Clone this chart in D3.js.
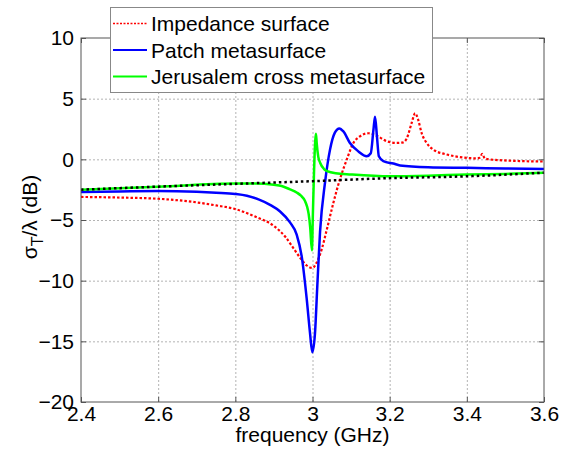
<!DOCTYPE html>
<html>
<head>
<meta charset="utf-8">
<script src="https://cdn.jsdelivr.net/npm/d3@7"></script>
<style>
  body { margin: 0; background: #fff; }
  text { font-family: "Liberation Sans", Arial, sans-serif; }
  .tick text { font-size: 21px; fill: #000; }
  .grid line { stroke: #b4b4b4; stroke-dasharray: 2,2; stroke-width: 1; }
  .grid path { display: none; }
</style>
</head>
<body>
<div id="plot"></div>
<script>
const WIDTH  = 571;
const HEIGHT = 450;
const MARGIN = { left: 81, right: 27, top: 38, bottom: 48 };

const X_TICKS = [2.4, 2.6, 2.8, 3.0, 3.2, 3.4, 3.6];
const Y_TICKS = [-20, -15, -10, -5, 0, 5, 10];

const LEGEND_LABELS = ["Impedance surface", "Patch metasurface", "Jerusalem cross metasurface"];

// frequency (GHz) / sigma_T over lambda (dB)
const IMP_F = [2.4, 2.5, 2.6, 2.7, 2.75, 2.8, 2.85, 2.9, 2.93, 2.95, 2.97, 2.985, 3.0, 3.011, 3.024, 3.037,
               3.054, 3.071, 3.089, 3.106, 3.123, 3.145, 3.166, 3.192, 3.218, 3.235, 3.244, 3.257,
               3.266, 3.274, 3.283, 3.296, 3.313, 3.348, 3.391, 3.426, 3.434, 3.44, 3.447, 3.503, 3.6];
const IMP_V = [-3.1, -3.15, -3.25, -3.55, -3.8, -4.1, -4.7, -5.5, -6.4, -7.3, -8.2, -8.75, -8.95, -8.5, -7.4, -5.8,
               -3.6, -1.65, 0.0, 1.35, 1.9, 2.15, 1.95, 1.5, 1.35, 1.4, 1.7, 3.0,
               3.8, 3.25, 2.15, 1.35, 0.8, 0.4, 0.15, 0.08, 0.15, 0.45, 0.05, -0.1, -0.18];

const PATCH_F = [2.4, 2.5, 2.6, 2.7, 2.75, 2.8, 2.83, 2.86, 2.89, 2.916, 2.9417, 2.959, 2.972, 2.985,
                 2.9935, 2.9995, 3.0065, 3.0125, 3.0195, 3.0325, 3.0454, 3.058, 3.0695, 3.08, 3.097,
                 3.119, 3.1405, 3.151, 3.158, 3.162, 3.167, 3.172, 3.1836, 3.2095, 3.227, 3.3, 3.4, 3.5, 3.6];
const PATCH_V = [-2.7, -2.65, -2.62, -2.68, -2.75, -2.85, -3.0, -3.3, -3.75, -4.3, -5.2, -6.2, -8.0, -11.5,
                 -14.3, -15.9, -14.3, -10.4, -6.0, -1.9, 0.8, 2.2, 2.55, 2.3, 1.35,
                 0.65, 0.25, 0.5, 2.45, 3.5, 1.9, 0.25, -0.15, -0.35, -0.5, -0.65, -0.7, -0.75, -0.8];

const JC_F = [2.4, 2.6, 2.8, 2.85, 2.9, 2.92, 2.94, 2.96, 2.97, 2.98, 2.986, 2.99, 2.994, 2.9985,
              3.001, 3.004, 3.007, 3.009, 3.011, 3.015, 3.02, 3.03, 3.04, 3.06, 3.1, 3.2, 3.3, 3.4, 3.5, 3.6];
const JC_V = [-2.5, -2.25, -2.0, -2.0, -2.1, -2.2, -2.45, -2.75, -3.0, -3.4, -3.9, -4.5, -5.6, -7.5,
              -4.5, -1.0, 1.5, 2.1, 1.3, 0.2, -0.3, -0.8, -1.0, -1.15, -1.25, -1.4, -1.35, -1.25, -1.2, -1.1];

const REF_F = [2.4, 2.6, 2.8, 3.0, 3.2, 3.4, 3.6];
const REF_V = [-2.5, -2.25, -2.02, -1.8, -1.55, -1.4, -1.1];

var svg, xScale, yScale;

svg = d3.select("#plot")
        .append("svg")
        .attr("width", WIDTH)
        .attr("height", HEIGHT);

xScale = d3.scaleLinear()
           .domain([2.4, 3.6])
           .range([MARGIN.left, WIDTH - MARGIN.right]);
yScale = d3.scaleLinear()
           .domain([-20, 10])
           .range([HEIGHT - MARGIN.bottom, MARGIN.top]);

var plotW = WIDTH - MARGIN.left - MARGIN.right;
var plotH = HEIGHT - MARGIN.top - MARGIN.bottom;

// gridlines
svg.append("g")
   .attr("class", "grid")
   .attr("transform", "translate(0," + (HEIGHT - MARGIN.bottom) + ")")
   .call(d3.axisBottom(xScale).tickValues(X_TICKS.slice(1, -1)).tickSize(-plotH).tickFormat(""));
svg.append("g")
   .attr("class", "grid")
   .attr("transform", "translate(" + MARGIN.left + ",0)")
   .call(d3.axisLeft(yScale).tickValues(Y_TICKS.slice(1, -1)).tickSize(-plotW).tickFormat(""));

// curves
var series = [
    { f: IMP_F,   v: IMP_V,   color: "#ff0000", width: 2.2, dash: "2.5,2" },
    { f: PATCH_F, v: PATCH_V, color: "#0000ff", width: 2.5, dash: null },
    { f: JC_F,    v: JC_V,    color: "#00ff00", width: 2.5, dash: null },
    { f: REF_F,   v: REF_V,   color: "#000000", width: 2.5, dash: "2.5,3" }
];

var line = d3.line()
             .x(d => xScale(d[0]))
             .y(d => yScale(d[1]))
             .curve(d3.curveMonotoneX);

series.forEach(function(s) {
    var pts = s.f.map((f, i) => [f, s.v[i]]);
    svg.append("path")
       .attr("d", line(pts))
       .attr("fill", "none")
       .attr("stroke", s.color)
       .attr("stroke-width", s.width)
       .attr("stroke-dasharray", s.dash);
});

// box
svg.append("rect")
   .attr("x", MARGIN.left)
   .attr("y", MARGIN.top)
   .attr("width", plotW)
   .attr("height", plotH)
   .attr("fill", "none")
   .attr("stroke", "#555")
   .attr("stroke-width", 1);

// axes with inward ticks
svg.append("g")
   .attr("transform", "translate(0," + (HEIGHT - MARGIN.bottom) + ")")
   .call(d3.axisBottom(xScale).tickValues(X_TICKS).tickSizeInner(-5).tickSizeOuter(0)
           .tickPadding(4).tickFormat(d3.format("~g")));
svg.append("g")
   .attr("transform", "translate(" + MARGIN.left + ",0)")
   .call(d3.axisLeft(yScale).tickValues(Y_TICKS).tickSizeInner(-5).tickSizeOuter(0)
           .tickPadding(7));
svg.append("g")
   .attr("transform", "translate(0," + MARGIN.top + ")")
   .call(d3.axisTop(xScale).tickValues(X_TICKS).tickSizeInner(-5).tickSizeOuter(0).tickFormat(""));
svg.append("g")
   .attr("transform", "translate(" + (WIDTH - MARGIN.right) + ",0)")
   .call(d3.axisRight(yScale).tickValues(Y_TICKS).tickSizeInner(-5).tickSizeOuter(0).tickFormat(""));
svg.selectAll(".domain").remove();
svg.selectAll(".tick line").attr("stroke", "#555");

// axis labels
svg.append("text")
   .attr("x", MARGIN.left + plotW / 2)
   .attr("y", 442)
   .attr("text-anchor", "middle")
   .style("font-size", "21px")
   .text("frequency (GHz)");

var yl = svg.append("text")
   .attr("transform", "translate(37," + (MARGIN.top + plotH / 2 - 3) + ") rotate(-90)")
   .attr("text-anchor", "middle")
   .style("font-size", "21px");
yl.append("tspan").text("σ");
yl.append("tspan").attr("dy", 6).style("font-size", "16px").text("T");
yl.append("tspan").attr("dy", -6).text("/λ (dB)");

// legend
var legend = svg.append("g");
legend.append("rect")
      .attr("x", 110.5).attr("y", 7.5)
      .attr("width", 322).attr("height", 85)
      .attr("fill", "#fff")
      .attr("stroke", "#888")
      .attr("stroke-width", 1);
LEGEND_LABELS.forEach(function(label, i) {
    var yc = 23.5 + i * 26.5;
    legend.append("line")
          .attr("x1", 113).attr("x2", 147)
          .attr("y1", yc).attr("y2", yc)
          .attr("stroke", series[i].color)
          .attr("stroke-width", series[i].dash ? 1.6 : 2.2)
          .attr("stroke-dasharray", series[i].dash ? "2,1.5" : null);
    legend.append("text")
          .attr("x", 151)
          .attr("y", yc + 7.5)
          .style("font-size", "21px")
          .text(label);
});
</script>
</body>
</html>
